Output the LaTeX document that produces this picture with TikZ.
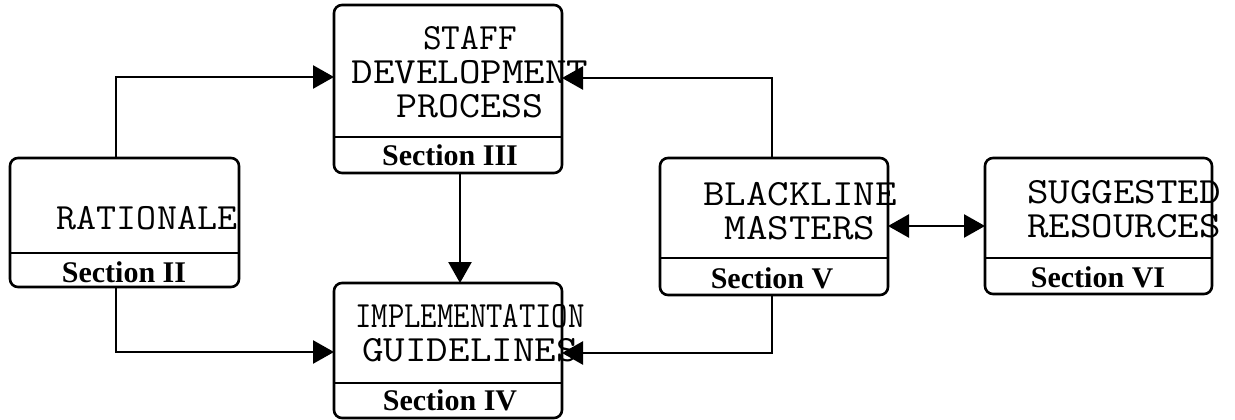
\documentclass[tikz,border=0pt]{standalone}
\usepackage{fontspec}
\usepackage{graphicx}
\newfontfamily\secfont{Liberation Serif}
\usetikzlibrary{arrows.meta}
% typewriter line, stretched horizontally
\newcommand{\ttw}[2][1.13]{\scalebox{#1}[1]{#2}}

\begin{document}
\begin{tikzpicture}[x=1pt,y=-1pt,
  box/.style={draw, line width=2.6pt, rounded corners=8pt, inner sep=0pt, outer sep=0pt},
  divider/.style={line width=1.1pt},
  monotext/.style={font=\ttfamily\fontsize{37}{34}\selectfont, align=center, inner sep=0pt},
  seclabel/.style={font=\secfont\bfseries\fontsize{30}{30}\selectfont, inner sep=0pt},
  conn/.style={line width=2.6pt, -{Triangle[length=21pt,width=23pt]}},
  biconn/.style={line width=2.6pt, {Triangle[length=21pt,width=23pt]}-{Triangle[length=21pt,width=23pt]}}
]
\useasboundingbox (0,0) rectangle (1235,420);

% boxes
\node[box, minimum width=229pt, minimum height=129pt] (rat)   at (124.5,222.5) {};
\node[box, minimum width=228pt, minimum height=168pt] (staff) at (448,89) {};
\node[box, minimum width=228pt, minimum height=135pt] (impl)  at (448,350.5) {};
\node[box, minimum width=228pt, minimum height=137pt] (black) at (774,226.5) {};
\node[box, minimum width=227pt, minimum height=136pt] (sugg)  at (1098.5,226) {};

% dividers above the section labels
\draw[divider] (rat.west |- 0,253) -- (rat.east |- 0,253);
\draw[divider] (staff.west |- 0,137) -- (staff.east |- 0,137);
\draw[divider] (impl.west |- 0,383) -- (impl.east |- 0,383);
\draw[divider] (black.west |- 0,258) -- (black.east |- 0,258);
\draw[divider] (sugg.west |- 0,258) -- (sugg.east |- 0,258);

% titles
\node[monotext] (ratT)   at (147,218)    {\ttw[1.05]{RATIONALE}};
\node[monotext] (staffT) at (470,72)     {\ttw[0.98]{STAFF}\\\ttw[1.13]{DEVELOPMENT}\\\ttw[1.1]{PROCESS}};
\node[monotext] (implT)  at (470,333)    {\ttw[0.86]{IMPLEMENTATION}\\\ttw[1.13]{GUIDELINES}};
\node[monotext] (blackT) at (800,211.5)  {\ttw{BLACKLINE}\\\ttw{MASTERS}};
\node[monotext] (suggT)  at (1124,209.5) {\ttw{SUGGESTED}\\\ttw{RESOURCES}};

% section labels
\node[seclabel] (ratS)   at (124,272)  {Section II};
\node[seclabel] (staffS) at (450,155)  {Section III};
\node[seclabel] (implS)  at (450,400)  {Section IV};
\node[seclabel] (blackS) at (772,278)  {Section V};
\node[seclabel] (suggS)  at (1098,277) {Section VI};

% connectors
\draw[conn] (rat.north -| 116,0) |- (staff.west |- 0,77);
\draw[conn] (rat.south -| 116,0) |- (impl.west |- 0,352);
\draw[conn] (staff.south -| 460,0) -- (impl.north -| 460,0);
\draw[conn] (black.north -| 772,0) |- (staff.east |- 0,78);
\draw[conn] (black.south -| 772,0) |- (impl.east |- 0,353);
\draw[biconn] (black.east |- 0,226) -- (sugg.west |- 0,226);
\end{tikzpicture}
\end{document}
